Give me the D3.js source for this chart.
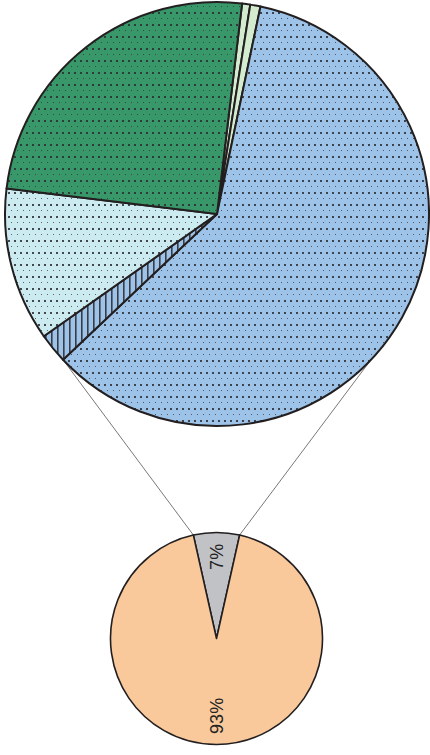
<!DOCTYPE html>
<html>
<head>
<meta charset="utf-8">
<script src="https://cdn.jsdelivr.net/npm/d3@7"></script>
<style>
html,body{margin:0;padding:0;background:#fff;}
svg{display:block;}
</style>
</head>
<body>
<svg id="chart" width="430" height="755"></svg>
<script>
// Main pie (clockwise from first slice)
const mainCategories = ["Light green 1", "Light green 2", "Blue", "Hatched", "Light cyan", "Dark green"];
const mainValues = [0.62, 0.78, 59.65, 2.28, 11.70, 24.97];
const mainStartDeg = 6.8;
// Secondary pie
const subCategories = ["Grey", "Peach"];
const subValues = [7, 93];
const subLabels = ["7%", "93%"];

const svg = d3.select("#chart");
const defs = svg.append("defs");

function dotPattern(id, bg) {
  const p = defs.append("pattern").attr("id", id).attr("patternUnits", "userSpaceOnUse")
    .attr("width", 6).attr("height", 12);
  p.append("rect").attr("width", 6).attr("height", 12).attr("fill", bg);
  p.append("rect").attr("x", 1).attr("y", 2).attr("width", 2).attr("height", 2).attr("fill", "#2b2b33").attr("opacity", 0.85);
  p.append("rect").attr("x", 4).attr("y", 8).attr("width", 1).attr("height", 1).attr("fill", "#2b2b33").attr("opacity", 0.7);
}
dotPattern("dotBlue", "#9dc3e8");
dotPattern("dotCyan", "#cbebf0");
dotPattern("dotGreen", "#39986a");
const hp = defs.append("pattern").attr("id", "hatch").attr("patternUnits", "userSpaceOnUse")
  .attr("width", 6).attr("height", 6);
hp.append("rect").attr("width", 6).attr("height", 6).attr("fill", "#9dc3e8");
hp.append("rect").attr("x", 2).attr("width", 1.6).attr("height", 6).attr("fill", "#3a3d45");

const mainFills = ["#d3ebcf", "#d3ebcf", "url(#dotBlue)", "url(#hatch)", "url(#dotCyan)", "url(#dotGreen)"];
const subFills = ["#c1c2c6", "#f9c99b"];

const cx = 217, cy = 214, R = 212;
const cx2 = 216.5, cy2 = 638.5, R2 = 106;

const deg = Math.PI / 180;
const mainPie = d3.pie().sort(null).value(d => d)
  .startAngle(mainStartDeg * deg).endAngle((mainStartDeg + 360) * deg);
const mainArcs = mainPie(mainValues);
const arcMain = d3.arc().innerRadius(0).outerRadius(R);

const subTotal = d3.sum(subValues);
const subStart = -(subValues[0] / subTotal) * Math.PI;
const subPie = d3.pie().sort(null).value(d => d)
  .startAngle(subStart).endAngle(subStart + 2 * Math.PI);
const subArcs = subPie(subValues);
const arcSub = d3.arc().innerRadius(0).outerRadius(R2);

// Connector lines: from main pie edge (blue slice end, mirrored) to secondary pie grey slice edges
const blueEnd = mainArcs[2].endAngle;
const mirror = 2 * Math.PI - blueEnd;
const pt = (x, y, r, a) => [x + r * Math.sin(a), y - r * Math.cos(a)];
const g0 = subArcs[0];
const links = [
  [pt(cx, cy, R, blueEnd), pt(cx2, cy2, R2, g0.startAngle)],
  [pt(cx, cy, R, mirror), pt(cx2, cy2, R2, g0.endAngle)]
];
svg.append("g").selectAll("line").data(links).join("line")
  .attr("x1", d => d[0][0]).attr("y1", d => d[0][1])
  .attr("x2", d => d[1][0]).attr("y2", d => d[1][1])
  .attr("stroke", "#555").attr("stroke-width", 0.8);

const gMain = svg.append("g").attr("transform", `translate(${cx},${cy})`);
gMain.selectAll("path").data(mainArcs).join("path")
  .attr("d", arcMain)
  .attr("fill", (d, i) => mainFills[i])
  .attr("stroke", "#231f20").attr("stroke-width", 2).attr("stroke-linejoin", "round");

const gSub = svg.append("g").attr("transform", `translate(${cx2},${cy2})`);
gSub.selectAll("path").data(subArcs).join("path")
  .attr("d", arcSub)
  .attr("fill", (d, i) => subFills[i])
  .attr("stroke", "#231f20").attr("stroke-width", 1.6).attr("stroke-linejoin", "round");

const labelR = [R2 * 0.77, R2 * 0.73];
gSub.selectAll("text").data(subArcs).join("text")
  .attr("transform", (d, i) => {
    const a = (d.startAngle + d.endAngle) / 2;
    const p = [labelR[i] * Math.sin(a), -labelR[i] * Math.cos(a)];
    return `translate(${p[0]},${p[1]}) rotate(-90)`;
  })
  .attr("text-anchor", "middle").attr("dy", "0.35em")
  .attr("font-family", "Liberation Sans, Arial, sans-serif").attr("font-size", 18)
  .attr("fill", "#222")
  .text((d, i) => subLabels[i]);
</script>
</body>
</html>
